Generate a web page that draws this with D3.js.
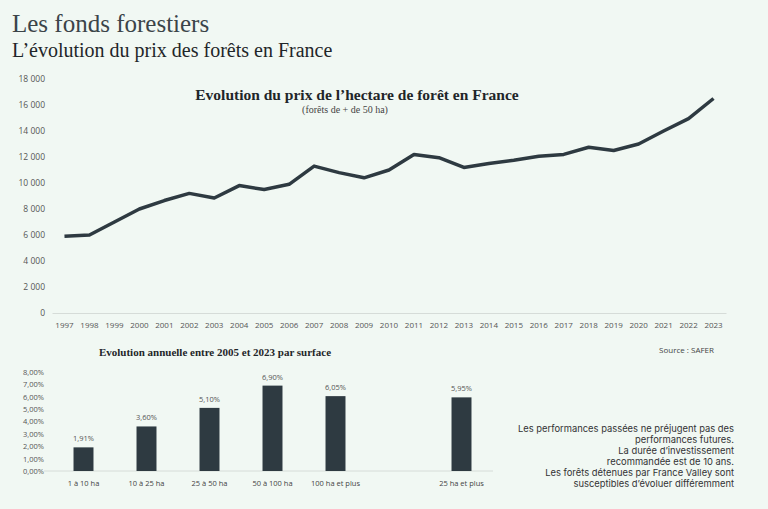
<!DOCTYPE html>
<html>
<head>
<meta charset="utf-8">
<script src="https://cdn.jsdelivr.net/npm/d3@7"></script>
<style>
  html, body { margin: 0; padding: 0; background: #f1f8f3; }
  svg { display: block; }
</style>
</head>
<body>
<script>
// price per hectare, forests > 50 ha (SAFER)
const years = d3.range(1997, 2024).map(String);
const prices = [5900, 6000, 7000, 8000, 8650, 9200, 8850, 9800, 9500, 9900,
  11300, 10800, 10400, 11000, 12200, 11950, 11200, 11500, 11750, 12050,
  12200, 12750, 12500, 13000, 14000, 14950, 16500];
const priceTicks = d3.range(0, 18001, 2000);

// annual change 2005-2023 by surface
const surfaces = ['1 à 10 ha', '10 à 25 ha', '25 à 50 ha', '50 à 100 ha', '100 ha et plus', '', '25 ha et plus'];
const rates = [1.91, 3.60, 5.10, 6.90, 6.05, null, 5.95];
const rateTicks = d3.range(0, 8.01, 1);

const notes = [
  'Les performances passées ne préjugent pas des',
  'performances futures.',
  'La durée d\u2019investissement',
  'recommandée est de 10 ans.',
  'Les forêts détenues par France Valley sont',
  'susceptibles d\u2019évoluer différemment'
];

const dark = '#2e3a41';
const sans = "'Open Sans', 'Liberation Sans', sans-serif";
const serif = "'Liberation Serif', 'DejaVu Serif', serif";
const fr = d3.formatLocale({ decimal: ',', thousands: '\u00a0', grouping: [3], currency: ['', '€'] });

let svg = d3.select('body').append('svg').attr('width', 768).attr('height', 509);
svg.append('rect').attr('width', 768).attr('height', 509).attr('fill', '#f1f8f3');

// headings
svg.append('text').attr('x', 12).attr('y', 32).text('Les fonds forestiers')
  .attr('font-family', serif).attr('font-size', 25).attr('fill', '#3b4449');
svg.append('text').attr('x', 12).attr('y', 57).text('L\u2019évolution du prix des forêts en France')
  .attr('font-family', serif).attr('font-size', 20).attr('fill', '#1f2629');

// line chart
let x = d3.scaleBand().domain(years).range([52, 726]);
let y = d3.scaleLinear().domain([0, 18000]).range([313, 79]);

let yAxis = svg.append('g').attr('transform', 'translate(50,0)')
  .call(d3.axisLeft(y).tickValues(priceTicks).tickSize(0).tickPadding(5).tickFormat(fr.format(',d')));
yAxis.select('.domain').remove();
yAxis.selectAll('text').attr('font-family', sans).attr('font-size', 8.5).attr('fill', '#555');

let xAxis = svg.append('g').attr('transform', 'translate(0,313)')
  .call(d3.axisBottom(x).tickSize(0).tickPadding(9));
xAxis.select('.domain').attr('stroke', '#d6dcd8');
xAxis.selectAll('text').attr('font-family', sans).attr('font-size', 8).attr('fill', '#555');

let line = d3.line().x((d, i) => x(years[i]) + x.bandwidth() / 2).y(d => y(d));
svg.append('path').datum(prices).attr('d', line)
  .attr('fill', 'none').attr('stroke', dark).attr('stroke-width', 3.5).attr('stroke-linejoin', 'round');

svg.append('text').attr('x', 357).attr('y', 100).attr('text-anchor', 'middle')
  .text('Evolution du prix de l\u2019hectare de forêt en France')
  .attr('font-family', serif).attr('font-weight', 'bold').attr('font-size', 15.5).attr('fill', '#1f2629');
svg.append('text').attr('x', 345).attr('y', 113).attr('text-anchor', 'middle')
  .text('(forêts de + de 50 ha)')
  .attr('font-family', serif).attr('font-size', 10).attr('fill', '#444');

// bar chart
let bx = d3.scaleBand().domain(surfaces.map((s, i) => i)).range([52, 493]).paddingInner(0.683).paddingOuter(0.3415);
let by = d3.scaleLinear().domain([0, 8]).range([471, 372]);

svg.append('text').attr('x', 215).attr('y', 356).attr('text-anchor', 'middle')
  .text('Evolution annuelle entre 2005 et 2023 par surface')
  .attr('font-family', serif).attr('font-weight', 'bold').attr('font-size', 11).attr('fill', '#1f2629');

let byAxis = svg.append('g').attr('transform', 'translate(46,0)')
  .call(d3.axisLeft(by).tickValues(rateTicks).tickSize(0).tickPadding(2).tickFormat(d => fr.format('.2f')(d) + '%'));
byAxis.select('.domain').remove();
byAxis.selectAll('text').attr('font-family', sans).attr('font-size', 7.5).attr('fill', '#555');

svg.append('line').attr('x1', 44).attr('x2', 493).attr('y1', by(0)).attr('y2', by(0))
  .attr('stroke', '#d6dcd8');

let bars = surfaces.map((s, i) => ({ i, s, v: rates[i] })).filter(d => d.v != null);
svg.selectAll('rect.bar').data(bars).enter().append('rect').attr('class', 'bar')
  .attr('x', d => bx(d.i)).attr('width', bx.bandwidth())
  .attr('y', d => by(d.v)).attr('height', d => by(0) - by(d.v))
  .attr('fill', dark);
svg.selectAll('text.val').data(bars).enter().append('text').attr('class', 'val')
  .attr('x', d => bx(d.i) + bx.bandwidth() / 2).attr('y', d => by(d.v) - 6)
  .attr('text-anchor', 'middle').text(d => fr.format('.2f')(d.v) + '%')
  .attr('font-family', sans).attr('font-size', 7.5).attr('fill', '#555');
svg.selectAll('text.cat').data(bars).enter().append('text').attr('class', 'cat')
  .attr('x', d => bx(d.i) + bx.bandwidth() / 2).attr('y', 485.5)
  .attr('text-anchor', 'middle').text(d => d.s)
  .attr('font-family', sans).attr('font-size', 7.5).attr('fill', '#444');

// source and notes
svg.append('text').attr('x', 714).attr('y', 353).attr('text-anchor', 'end').text('Source : SAFER')
  .attr('font-family', sans).attr('font-size', 8).attr('fill', '#444');
svg.append('g').selectAll('text').data(notes).enter().append('text')
  .attr('x', 734).attr('y', (d, i) => 431.5 + i * 11).attr('text-anchor', 'end').text(d => d)
  .attr('font-family', "Inter, 'Open Sans', sans-serif").attr('font-size', 9.4).attr('fill', '#333');
</script>
</body>
</html>
